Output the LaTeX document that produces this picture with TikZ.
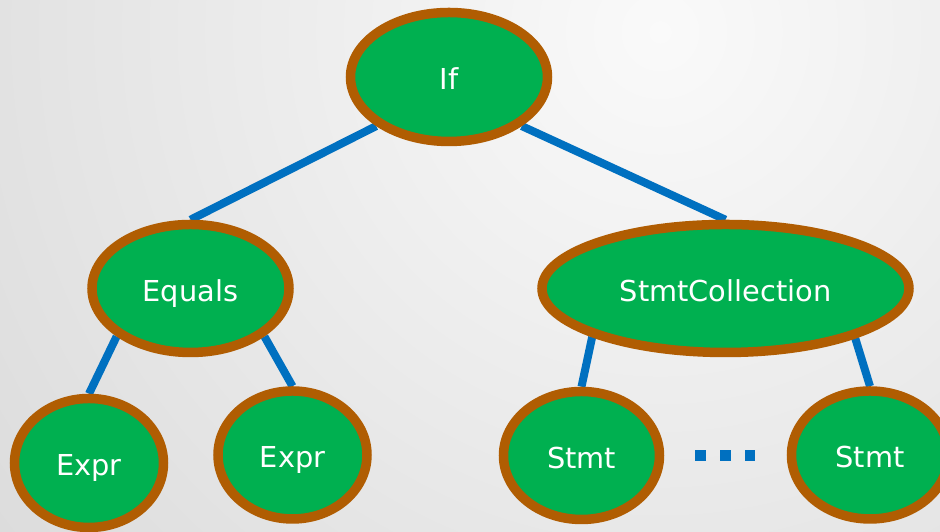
\documentclass[tikz,border=0pt]{standalone}
\usepackage{fontspec}
\setsansfont{DejaVu Sans}
\usepackage{tikz}
\usetikzlibrary{shapes.geometric, backgrounds}

\definecolor{nodegreen}{RGB}{0,176,80}
\definecolor{nodebrown}{RGB}{176,93,2}
\definecolor{edgeblue}{RGB}{0,112,192}

\begin{document}
\begin{tikzpicture}[tree node/.style={ellipse, draw=nodebrown, fill=nodegreen, line width=0.095cm, text=white, inner sep=0pt, text height=0.73em, text depth=0pt, font=\sffamily\fontsize{8.2}{10}\selectfont},
  branch/.style={draw=edgeblue, line width=0.08cm},
  dot node/.style={rectangle, fill=edgeblue, inner sep=0pt, minimum size=0.11cm}]

  \useasboundingbox (0,0) rectangle (9.4,5.32);

  % Background
  \begin{scope}[on background layer]
    \clip (0,0) rectangle (9.4,5.32);
    \shade[inner color=gray!4, outer color=gray!30] (6.6,5.0) circle (9.2);
  \end{scope}

  % Define nodes
  \node[tree node, minimum width=1.97cm, minimum height=1.29cm] (If) at (4.49,4.55) {If};
  \node[tree node, minimum width=1.97cm, minimum height=1.28cm] (Equals) at (1.905,2.435) {Equals};
  \node[tree node, minimum width=3.67cm, minimum height=1.28cm] (StmtColl) at (7.255,2.435) {StmtCollection};
  \node[tree node, minimum width=1.49cm, minimum height=1.29cm] (ExprL) at (0.89,0.69) {Expr};
  \node[tree node, minimum width=1.49cm, minimum height=1.28cm] (ExprR) at (2.925,0.77) {Expr};
  \node[tree node, minimum width=1.56cm, minimum height=1.28cm] (StmtL) at (5.815,0.765) {Stmt};
  \node[tree node, minimum width=1.57cm, minimum height=1.28cm] (StmtR) at (8.70,0.77) {Stmt};

  % the dots between the two statements
  \foreach \i/\x in {0/7.005, 1/7.255, 2/7.50}
    \node[dot node] (dot\i) at (\x,0.765) {};

  % Define edges (behind the nodes)
  \begin{scope}[on background layer]
    \draw[branch] (If.214) -- (Equals.north);
    \draw[branch] (If.326) -- (StmtColl.north);
    \draw[branch] (Equals.213) -- (ExprL.north);
    \draw[branch] (Equals.327) -- (ExprR.north);
    \draw[branch] (StmtColl.200.6) -- (StmtL.north);
    \draw[branch] (StmtColl.339.4) -- (StmtR.north);
  \end{scope}
\end{tikzpicture}
\end{document}
